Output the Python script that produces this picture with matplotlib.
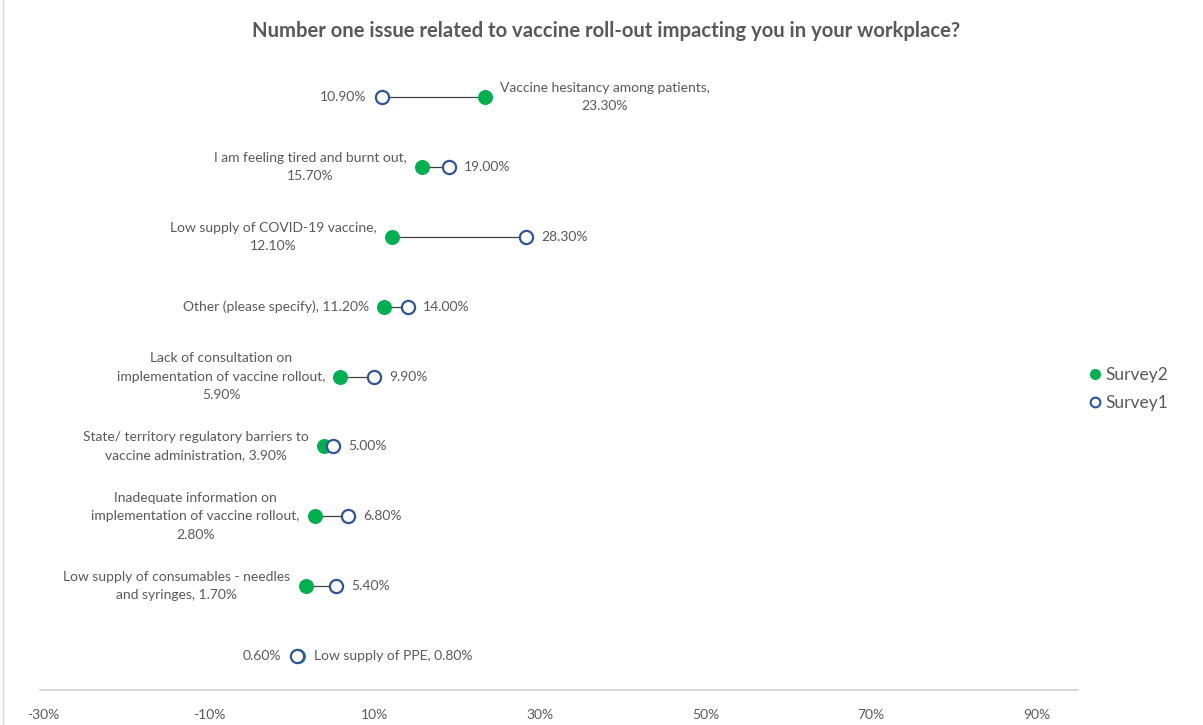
import matplotlib
matplotlib.use("Agg")
import matplotlib.pyplot as plt
from matplotlib.lines import Line2D

plt.rcParams['font.family'] = ['Lato', 'DejaVu Sans']

# data, top row first
categories = ["Vaccine hesitancy among patients",
              "I am feeling tired and burnt out",
              "Low supply of COVID-19 vaccine",
              "Other (please specify)",
              "Lack of consultation on\nimplementation of vaccine rollout",
              "State/ territory regulatory barriers to\nvaccine administration",
              "Inadequate information on\nimplementation of vaccine rollout",
              "Low supply of consumables - needles\nand syringes",
              "Low supply of PPE"]
survey2 = [23.3, 15.7, 12.1, 11.2, 5.9, 3.9, 2.8, 1.7, 0.8]
survey1 = [10.9, 19.0, 28.3, 14.0, 9.9, 5.0, 6.8, 5.4, 0.6]
value_sep = ["\n", "\n", "\n", " ", "\n", " ", "\n", " ", " "]
s2_side = ["right", "left", "left", "left", "left", "left", "left", "left", "right"]
xticks = [-30, -10, 10, 30, 50, 70, 90]

green = '#00B050'
blue = '#2F5597'
txt = '#595959'

fig = plt.figure(figsize=(12.03, 7.25), dpi=100)
ax = fig.add_axes([40/1203, 1 - 690/725, 1038/1203, 630/725])

n = len(categories)
ys = [n - 1 - i for i in range(n)]

for i in range(n):
    ax.plot([survey2[i], survey1[i]], [ys[i], ys[i]], color='#404040', lw=0.9, zorder=1)

ax.plot(survey2, ys, 'o', color=green, markersize=10.8, markeredgewidth=0, zorder=2)
ax.plot(survey1, ys, 'o', markerfacecolor='white', markeredgecolor=blue,
        markersize=9.5, markeredgewidth=1.6, zorder=3)

for i in range(n):
    lab = categories[i] + "," + value_sep[i] + "%.2f%%" % survey2[i]
    if s2_side[i] == 'right':
        off2, ha2, off1, ha1 = 11, 'left', -11, 'right'
    else:
        off2, ha2, off1, ha1 = -11, 'right', 11, 'left'
    ax.annotate(lab, (survey2[i], ys[i]), xytext=(off2, 0), textcoords='offset points',
                ha=ha2, va='center', multialignment='center', fontsize=10, color=txt,
                linespacing=1.65)
    ax.annotate("%.2f%%" % survey1[i], (survey1[i], ys[i]), xytext=(off1, 0),
                textcoords='offset points', ha=ha1, va='center', fontsize=10, color=txt)

ax.set_xlim(-30.4, 95)
ax.set_ylim(-0.487, 8.53)
ax.set_xticks(xticks)
ax.set_xticklabels(["%d%%" % t for t in xticks])
ax.tick_params(axis='x', length=0, pad=14, labelsize=10, labelcolor=txt)
ax.set_yticks([])
for s in ['top', 'right', 'left']:
    ax.spines[s].set_visible(False)
ax.spines['bottom'].set_color('#D0D0D0')
ax.spines['bottom'].set_linewidth(1.2)

fig.text(0.504, 1 - 31/725, "Number one issue related to vaccine roll-out impacting you in your workplace?",
         ha='center', va='center', fontsize=14.6, fontweight='bold', color=txt)

handles = [Line2D([], [], marker='o', linestyle='none', color=green, markersize=8, markeredgewidth=0),
           Line2D([], [], marker='o', linestyle='none', markerfacecolor='white',
                  markeredgecolor=blue, markersize=7, markeredgewidth=1.5)]
fig.legend(handles, ['Survey2', 'Survey1'], loc='center left', bbox_to_anchor=(0.89, 0.463),
           frameon=False, fontsize=12.5, handletextpad=0.1, handlelength=1.0,
           labelspacing=0.7, labelcolor=txt)

fig.add_artist(Line2D([3/1203, 3/1203], [0, 1], color='#D9D9D9', lw=1))

fig.savefig('out.png', dpi=100)
